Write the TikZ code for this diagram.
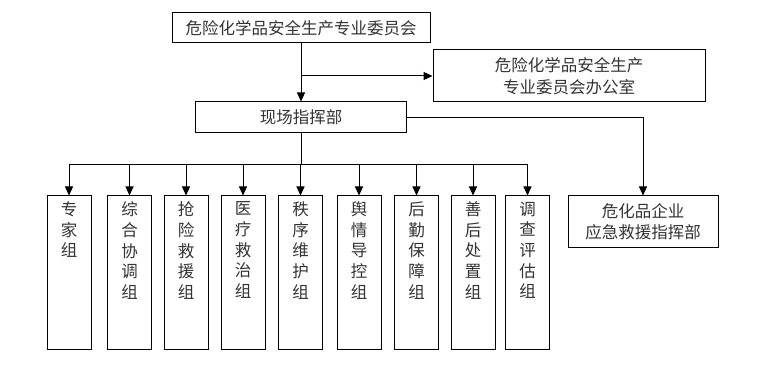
\documentclass[tikz,border=0pt]{standalone}
\usepackage{fontspec}
\newfontfamily\cjk{Noto Sans CJK SC}
\usetikzlibrary{arrows.meta}
\definecolor{txt}{HTML}{333333}
\begin{document}
\begin{tikzpicture}[x=1pt,y=-1pt,
  box/.style={draw=black,line width=1pt,rectangle,inner sep=0pt,align=center,
    font=\cjk\fontsize{16.5}{21}\selectfont,text=txt},
  grp/.style={draw=black,line width=1pt,rectangle,inner sep=0pt,minimum width=44pt,minimum height=153pt},
  vtxt/.style={anchor=north,inner sep=0pt,align=center,font=\cjk\fontsize{16.5}{20.7}\selectfont,text=txt},
  conn/.style={line width=1pt,draw=black},
  arr/.style={conn,-{Triangle[width=8pt,length=9pt]}}]
\useasboundingbox (0,0) rectangle (760,374);
\node[box,minimum width=258pt,minimum height=30pt] (top) at (301,28) {危险化学品安全生产专业委员会};
\node[box,minimum width=272pt,minimum height=52pt,font=\cjk\fontsize{16.5}{22.5}\selectfont] (office) at (569,76) {危险化学品安全生产\\专业委员会办公室};
\node[box,minimum width=211pt,minimum height=31pt] (cmd) at (301,117.5) {现场指挥部};
\node[box,minimum width=150pt,minimum height=51pt,font=\cjk\fontsize{16.5}{20.5}\selectfont] (ent) at (643,221.5) {危化品企业\\应急救援指挥部};
\foreach \n/\x/\t in {g1/69/{专\\家\\组},g2/129.5/{综\\合\\协\\调\\组},g3/186/{抢\\险\\救\\援\\组},
  g4/243/{医\\疗\\救\\治\\组},g5/300.5/{秩\\序\\维\\护\\组},g6/359/{舆\\情\\导\\控\\组},
  g7/416.5/{后\\勤\\保\\障\\组},g8/473/{善\\后\\处\\置\\组},g9/527.5/{调\\查\\评\\估\\组}}{
  \node[grp] (\n) at (\x,272.5) {};
  \node[vtxt] (\n t) at ([yshift=-6pt]\n.north) {\t};
}
\coordinate (bus) at (301,165);
\draw[arr] (top) -- (cmd);
\draw[arr] (top.south |- office.west) -- (office.west);
\draw[arr] (cmd.east) -| (ent.north);
\draw[conn] (cmd.south) -- (bus);
\draw[conn] (g1.north |- bus) -- (g9.north |- bus);
\foreach \n in {g1,g2,g3,g4,g5,g6,g7,g8,g9}{
  \draw[arr] (\n.north |- bus) -- (\n.north);
}
\end{tikzpicture}
\end{document}
